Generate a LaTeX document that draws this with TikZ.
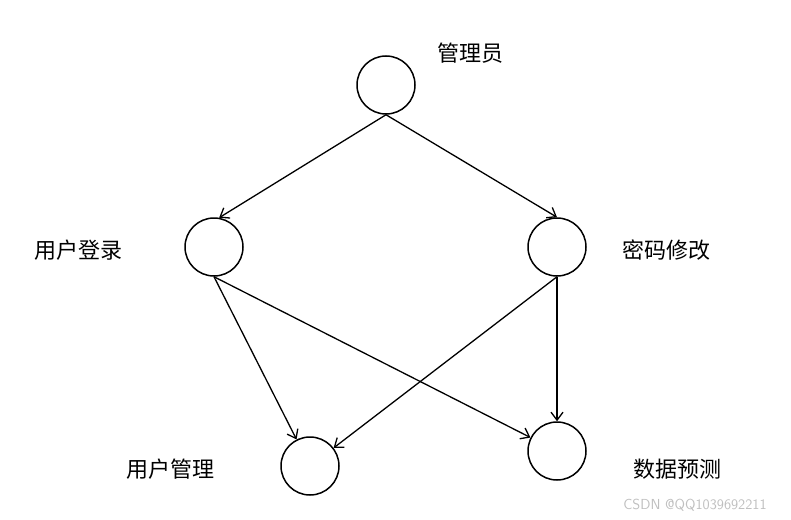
\documentclass[tikz,border=0pt]{standalone}
\usepackage{fontspec}
\newfontfamily\cjk{Noto Sans CJK SC}
\usetikzlibrary{arrows.meta}
\begin{document}
\begin{tikzpicture}[x=1pt,y=-1pt,
  state/.style={circle,draw,line width=1.5pt,minimum size=58pt,inner sep=0pt},
  lbl/.style={font=\cjk\fontsize{22}{24}\selectfont,inner sep=0pt},
  edge/.style={line width=1.3pt,-{Straight Barb[length=8pt,width=12pt,line width=1.3pt]}}]
\useasboundingbox (0,0) rectangle (791,519);
\node[state] (gly) at (386,85) {};
\node[state] (yhdl) at (214,247) {};
\node[state] (mmxg) at (557,247) {};
\node[state] (yhgl) at (310,466) {};
\node[state] (sjyc) at (557,451) {};
\node[lbl] (tgly) at (470,53) {管理员};
\node[lbl] (tyhdl) at (78,250) {用户登录};
\node[lbl] (tmmxg) at (666,250) {密码修改};
\node[lbl] (tyhgl) at (170,469) {用户管理};
\node[lbl] (tsjyc) at (677,469) {数据预测};
\node[font=\fontsize{14.5}{16}\selectfont\sffamily,text=black!25,inner sep=0pt] (wm) at (695,505) {CSDN @QQ1039692211};
\draw[edge] (gly.south) -- (yhdl.80);
\draw[edge] (gly.south) -- (mmxg.north);
\draw[edge] (yhdl.south) -- (yhgl);
\draw[edge] (yhdl.south) -- (sjyc);
\draw[edge] (mmxg.south) -- (yhgl);
\draw[edge] (mmxg.south) -- (sjyc);
\end{tikzpicture}
\end{document}
